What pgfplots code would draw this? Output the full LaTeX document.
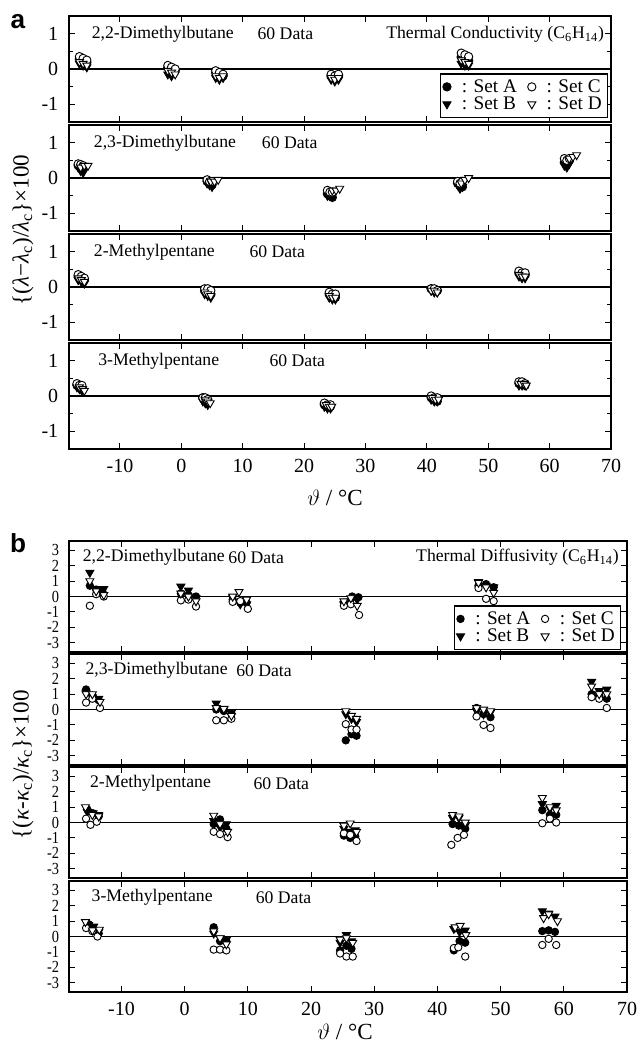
\documentclass[border=0pt]{standalone}
\usepackage{pgfplots}
\pgfplotsset{compat=1.18}
\usepackage{fontspec}
\setmainfont{Liberation Serif}
\newfontfamily\panelfont{Liberation Sans}

\pgfplotsset{
  base/.style={scale only axis, anchor=south west,
    xmin=-18.3, xmax=70, xtick={-10,0,...,70}, xticklabels={},
    tick align=inside, major tick length=4pt, minor tick length=2.5pt,
    every tick/.style={black, line width=0.6pt},
    axis line style={line width=0.8pt},
    yticklabel pos=left,
    /pgf/number format/assume math mode=true,
    ticklabel style={font=\fontsize{13}{15}\selectfont},
    yticklabel style={xshift=-3.5pt},
    xticklabel style={yshift=-3pt}},
  pa/.style={base, width=352.3pt, height=68.9pt,
    ymin=-1.5, ymax=1.5, ytick={-1,0,1}, minor ytick={-0.5,0.5}},
  pb/.style={base, width=362.7pt, height=72.15pt,
    ymin=-3.6, ymax=3.6, ytick={-3,-2,...,3},
    yticklabel style={font=\fontsize{11}{11}\selectfont, xscale=0.85, inner ysep=0pt}},
  showx/.style={xticklabels={-10,0,10,20,30,40,50,60,70}},
  sA/.style={only marks, mark=*, mark size=2.7pt,
    mark options={draw=black, fill=black, line width=0.6pt}},
  sB/.style={only marks, mark=triangle*, mark size=3pt,
    mark options={rotate=180, draw=black, fill=black, line width=0.6pt}},
  sC/.style={only marks, mark=*, mark size=2.7pt,
    mark options={draw=black, fill=white, line width=0.6pt}},
  sD/.style={only marks, mark=triangle*, mark size=3pt,
    mark options={rotate=180, draw=black, fill=white, line width=0.6pt}},
  zero/.style={black, line width=1pt, forget plot},
  setlegend/.style={legend columns=2, transpose legend,
    legend cell align=left,
    legend style={draw=black, line width=0.8pt, fill=white,
      font=\fontsize{12.5}{13}\selectfont, column sep=5pt, row sep=-2.5pt,
      inner sep=1.5pt}},
}

\newcommand{\lab}[3]{\node[anchor=west, font=\fontsize{11.5}{13}\selectfont] at (rel axis cs:#1,#3) {#2};}

\begin{document}
\begin{tikzpicture}
\path (0,0) rectangle (414.05pt,684.45pt);

% ---------------- panel a ----------------
\begin{axis}[pa, at={(44.85pt,605.15pt)}, setlegend,
  legend style={at={(rel axis cs:0.994,0.04)}, anchor=south east}]
\addplot[zero] coordinates {(-18.3,0) (70,0)};
\addplot[sA] coordinates {(-16.6,0.30)(-16.0,0.25)(-15.4,0.20) (-2.2,0.05)(-1.6,0.0)(-1.0,-0.05) (5.6,-0.1)(6.2,-0.15)(6.8,-0.2) (24.4,-0.2)(25,-0.25)(25.6,-0.2) (45.6,0.35)(46.2,0.3)(46.8,0.25)};
\addplot[sB] coordinates {(-16.6,0.15)(-16.0,0.10)(-15.4,0.05) (-2.2,-0.15)(-1.6,-0.2)(-1.0,-0.1) (5.6,-0.25)(6.2,-0.3)(6.8,-0.25) (24.4,-0.3)(25,-0.35)(25.6,-0.3) (45.6,0.15)(46.2,0.1)(46.8,0.1)};
\addplot[sC] coordinates {(-16.6,0.35)(-16.0,0.30)(-15.4,0.25) (-2.2,0.1)(-1.6,0.05)(-1.0,0.0) (5.6,-0.05)(6.2,-0.1)(6.8,-0.15) (24.4,-0.15)(25,-0.2)(25.6,-0.15) (45.6,0.45)(46.2,0.4)(46.8,0.35)};
\addplot[sD] coordinates {(-16.6,0.20)(-16.0,0.15)(-15.4,0.10) (-2.2,-0.05)(-1.6,-0.1)(-1.0,-0.15) (5.6,-0.2)(6.2,-0.25)(6.8,-0.2) (24.4,-0.25)(25,-0.3)(25.6,-0.25) (45.6,0.25)(46.2,0.2)(46.8,0.15)};
\legend{: Set A, : Set B, : Set C, : Set D}
\lab{0.032}{2,2-Dimethylbutane}{0.83}
\lab{0.338}{60 Data}{0.83}
\node[anchor=east, font=\fontsize{11.5}{13}\selectfont] at (rel axis cs:0.997,0.83) {Thermal Conductivity (C\textsubscript{6}H\textsubscript{14})};
\end{axis}

\begin{axis}[pa, at={(44.85pt,534.3pt)}]
\addplot[zero] coordinates {(-18.3,0) (70,0)};
\addplot[sA] coordinates {(-16.8,0.35)(-16.4,0.3)(-16.0,0.25) (4.2,-0.1)(4.6,-0.15)(5.0,-0.2) (23.8,-0.45)(24.2,-0.5)(24.6,-0.55) (45.0,-0.15)(45.4,-0.2)(45.8,-0.25) (62.4,0.45)(62.8,0.4)(63.2,0.5)};
\addplot[sB] coordinates {(-16.8,0.3)(-16.4,0.2)(-16.0,0.15) (4.2,-0.15)(4.6,-0.2)(5.0,-0.25) (23.8,-0.5)(24.2,-0.45)(24.6,-0.5) (45.0,-0.2)(45.4,-0.3)(45.8,-0.25) (62.4,0.35)(62.8,0.3)(63.2,0.4)};
\addplot[sC] coordinates {(-16.8,0.4)(-16.4,0.38)(-16.0,0.35) (4.2,-0.05)(4.6,-0.1)(5.0,-0.1) (23.8,-0.35)(24.2,-0.4)(24.6,-0.4) (45.0,-0.1)(45.4,-0.15)(45.8,-0.1) (62.4,0.55)(62.8,0.5)(63.2,0.55)};
\addplot[sD] coordinates {(-16.4,0.3)(-15.8,0.35)(-15.2,0.35) (4.8,-0.1)(5.4,-0.1)(6.0,-0.05) (24.6,-0.35)(25.2,-0.35)(25.8,-0.3) (45.6,-0.15)(46.2,-0.05)(46.8,0.0) (63.2,0.55)(63.8,0.6)(64.4,0.65)};
\lab{0.036}{2,3-Dimethylbutane}{0.83}
\lab{0.346}{60 Data}{0.83}
\end{axis}

\begin{axis}[pa, at={(44.85pt,463.45pt)}]
\addplot[zero] coordinates {(-18.3,0) (70,0)};
\addplot[sA] coordinates {(-16.8,0.3)(-16.3,0.25)(-15.8,0.2) (3.8,-0.1)(4.3,-0.15)(4.8,-0.2) (24.1,-0.2)(24.6,-0.25)(25.1,-0.3) (40.7,-0.05)(41.2,-0.1)(41.7,-0.1) (55.0,0.4)(55.5,0.35)(56.0,0.35)};
\addplot[sB] coordinates {(-16.8,0.2)(-16.3,0.15)(-15.8,0.1) (3.8,-0.2)(4.3,-0.25)(4.8,-0.3) (24.1,-0.3)(24.6,-0.35)(25.1,-0.35) (40.7,-0.1)(41.2,-0.15)(41.7,-0.15) (55.0,0.3)(55.5,0.25)(56.0,0.25)};
\addplot[sC] coordinates {(-16.8,0.35)(-16.3,0.3)(-15.8,0.25) (3.8,-0.05)(4.3,-0.05)(4.8,-0.1) (24.1,-0.15)(24.6,-0.2)(25.1,-0.2) (40.7,-0.05)(41.2,-0.05)(41.7,-0.1) (55.0,0.45)(55.5,0.4)(56.0,0.4)};
\addplot[sD] coordinates {(-16.8,0.25)(-16.3,0.2)(-15.8,0.15) (3.8,-0.15)(4.3,-0.2)(4.8,-0.25) (24.1,-0.25)(24.6,-0.3)(25.1,-0.3) (40.7,-0.1)(41.2,-0.1)(41.7,-0.15) (55.0,0.35)(55.5,0.3)(56.0,0.3)};
\lab{0.036}{2-Methylpentane}{0.83}
\lab{0.323}{60 Data}{0.83}
\end{axis}

\begin{axis}[pa, showx, at={(44.85pt,392.6pt)}]
\addplot[zero] coordinates {(-18.3,0) (70,0)};
\addplot[sA] coordinates {(-17.0,0.3)(-16.6,0.3)(-16.2,0.25) (3.5,-0.05)(3.9,-0.1)(4.3,-0.15) (23.3,-0.25)(23.8,-0.3)(24.3,-0.3) (40.7,-0.05)(41.2,-0.1)(41.7,-0.15) (55.0,0.35)(55.5,0.35)(56.0,0.3)};
\addplot[sB] coordinates {(-17.0,0.25)(-16.6,0.2)(-16.2,0.15) (3.5,-0.15)(3.9,-0.2)(4.3,-0.25) (23.3,-0.3)(23.8,-0.35)(24.3,-0.35) (40.7,-0.1)(41.2,-0.15)(41.7,-0.15) (55.0,0.3)(55.5,0.3)(56.0,0.3)};
\addplot[sC] coordinates {(-17.0,0.35)(-16.6,0.3)(-16.2,0.3) (3.5,-0.05)(3.9,-0.05)(4.3,-0.1) (23.3,-0.2)(23.8,-0.25)(24.3,-0.25) (40.7,0.0)(41.2,-0.05)(41.7,-0.05) (55.0,0.4)(55.5,0.4)(56.0,0.35)};
\addplot[sD] coordinates {(-16.6,0.25)(-16.1,0.2)(-15.8,0.15) (3.9,-0.1)(4.3,-0.15)(4.7,-0.2) (23.6,-0.25)(24.1,-0.3)(24.5,-0.3) (40.9,-0.05)(41.4,-0.1)(41.9,-0.1) (55.3,0.35)(55.8,0.35)(56.2,0.3)};
\lab{0.044}{3-Methylpentane}{0.83}
\lab{0.36}{60 Data}{0.83}
\end{axis}

% ---------------- panel b ----------------
\begin{axis}[pb, at={(44.85pt,260.65pt)}, setlegend,
  legend style={at={(rel axis cs:0.989,0.02)}, anchor=south east}]
\addplot[zero] coordinates {(-18.3,0) (70,0)};
\addplot[sA, mark size=2.4pt] coordinates {(-15.0,0.7)(-14.0,0.45)(-13.0,0.3) (-0.6,0.2)(0.6,0.1)(1.8,0.0) (7.6,-0.2)(8.8,-0.4)(9.8,-0.4) (25.2,-0.4)(26.5,0.0)(27.5,-0.05) (46.5,0.7)(47.7,0.8)(48.9,0.6)};
\addplot[sB] coordinates {(-15.0,1.55)(-13.8,0.5)(-12.8,0.5) (-0.6,0.65)(0.6,0.4)(1.8,-0.1) (7.6,-0.1)(8.8,-0.5)(9.8,-0.5) (25.2,-0.5)(26.3,-0.3)(27.3,-0.2) (46.5,0.95)(47.7,0.7)(48.9,0.6)};
\addplot[sC, mark size=2.4pt] coordinates {(-15.0,-0.6)(-14.0,0.15)(-12.8,0.0) (-0.6,-0.25)(0.6,-0.2)(1.8,-0.65) (7.6,-0.35)(8.8,-0.3)(10.0,-0.8) (25.2,-0.6)(26.3,-0.5)(27.6,-1.2) (46.5,0.55)(47.7,-0.15)(48.9,-0.3)};
\addplot[sD] coordinates {(-15.0,1.0)(-14.0,0.35)(-12.8,0.1) (-0.6,0.2)(0.6,0.0)(1.8,-0.3) (7.6,0.0)(8.6,0.3)(9.8,-0.2) (25.2,-0.3)(26.3,-0.1)(27.3,-0.6) (46.5,0.9)(47.7,0.6)(48.9,0.25)};
\legend{: Set A, : Set B, : Set C, : Set D}
\lab{0.015}{2,2-Dimethylbutane}{0.85}
\lab{0.276}{60 Data}{0.85}
\node[anchor=east, font=\fontsize{11.5}{13}\selectfont] at (rel axis cs:0.995,0.85) {Thermal Diffusivity (C\textsubscript{6}H\textsubscript{14})};
\end{axis}

\begin{axis}[pb, at={(44.85pt,187.2pt)}]
\addplot[zero] coordinates {(-18.3,0) (70,0)};
\addplot[sA, mark size=2.4pt] coordinates {(-15.6,1.3)(-14.6,0.9)(-13.6,0.6) (5.0,0.0)(6.2,-0.1)(7.4,-0.3) (25.5,-2.0)(26.4,-1.6)(27.2,-1.7) (46.2,0.1)(47.3,-0.3)(48.4,-0.5) (64.4,1.0)(65.6,0.9)(66.8,0.7)};
\addplot[sB] coordinates {(-15.6,1.1)(-14.6,0.8)(-13.6,0.7) (5.0,0.4)(6.2,0.0)(7.4,-0.2) (25.5,-0.3)(26.4,-0.6)(27.2,-0.8) (46.2,-0.1)(47.3,-0.3)(48.4,-0.2) (64.4,1.8)(65.6,1.2)(66.8,1.3)};
\addplot[sC, mark size=2.4pt] coordinates {(-15.6,0.45)(-14.6,0.7)(-13.4,0.1) (5.0,-0.7)(6.2,-0.7)(7.4,-0.6) (25.5,-0.95)(26.4,-1.3)(27.2,-1.3) (46.2,-0.45)(47.3,-1.0)(48.4,-1.2) (64.4,0.8)(65.6,0.7)(66.8,0.1)};
\addplot[sD] coordinates {(-15.6,1.0)(-14.6,1.0)(-13.4,0.5) (5.0,0.1)(6.2,0.05)(7.4,-0.4) (25.5,-0.1)(26.4,-0.4)(27.2,-0.6) (46.2,0.1)(47.3,0.0)(48.4,-0.1) (64.4,1.5)(65.6,1.0)(66.8,1.0)};
\lab{0.02}{2,3-Dimethylbutane}{0.85}
\lab{0.29}{60 Data}{0.85}
\end{axis}

\begin{axis}[pb, at={(44.85pt,113.75pt)}]
\addplot[zero] coordinates {(-18.3,0) (70,0)};
\addplot[sA, mark size=2.4pt] coordinates {(-15.4,0.85)(-14.5,0.6)(-13.6,0.4) (4.6,-0.1)(5.6,0.2)(6.6,-0.4) (25.2,-0.85)(26.2,-1.0)(27.0,-0.9) (42.4,-0.1)(43.4,-0.2)(44.4,-0.4) (56.6,0.8)(57.8,0.5)(58.8,0.5)};
\addplot[sB] coordinates {(-15.4,0.7)(-14.5,0.6)(-13.6,0.5) (4.6,0.1)(5.6,-0.3)(6.6,-0.1) (25.2,-0.4)(26.2,-0.6)(27.0,-0.5) (42.4,0.3)(43.4,0.3)(44.4,-0.2) (56.6,1.2)(57.8,0.9)(58.8,1.1)};
\addplot[sC, mark size=2.4pt] coordinates {(-15.6,0.25)(-14.9,-0.15)(-13.9,0.05) (4.6,-0.6)(5.6,-0.75)(6.8,-0.95) (25.2,-0.7)(26.2,-0.8)(27.2,-1.2) (42.2,-1.45)(43.2,-1.0)(44.2,-0.8) (56.6,-0.05)(57.8,0.25)(58.8,0.0)};
\addplot[sD] coordinates {(-15.7,1.0)(-14.6,0.5)(-13.6,0.4) (4.6,0.45)(5.6,-0.1)(6.8,-0.6) (25.2,-0.2)(26.2,-0.05)(27.2,-0.6) (42.4,0.5)(43.4,0.4)(44.4,0.0) (56.6,1.6)(57.8,1.0)(58.8,0.8)};
\lab{0.028}{2-Methylpentane}{0.85}
\lab{0.321}{60 Data}{0.85}
\end{axis}

\begin{axis}[pb, showx, at={(44.85pt,39.65pt)}]
\addplot[zero] coordinates {(-18.3,0) (70,0)};
\addplot[sA, mark size=2.4pt] coordinates {(-15.2,0.8)(-14.4,0.5)(-13.6,0.2) (4.6,0.6)(5.6,-0.3)(6.6,-0.3) (24.6,-0.9)(25.6,-0.6)(26.4,-0.8) (42.6,-0.9)(43.5,-0.3)(44.4,-0.4) (56.6,0.35)(57.6,0.4)(58.6,0.3)};
\addplot[sB] coordinates {(-15.2,0.75)(-14.4,0.65)(-13.6,0.3) (4.6,0.2)(5.6,-0.1)(6.6,-0.2) (24.6,-0.4)(25.6,0.1)(26.4,-0.3) (42.6,0.5)(43.5,0.3)(44.4,0.4) (56.6,1.65)(57.6,1.5)(58.6,1.3)};
\addplot[sC, mark size=2.4pt] coordinates {(-15.6,0.55)(-14.6,0.35)(-13.8,0.0) (4.6,-0.85)(5.6,-0.85)(6.6,-0.9) (24.6,-1.1)(25.6,-1.3)(26.6,-1.3) (42.6,-0.75)(43.3,-0.7)(44.4,-1.3) (56.6,-0.55)(57.6,-0.15)(58.8,-0.55)};
\addplot[sD] coordinates {(-15.7,0.95)(-14.6,0.4)(-13.5,0.45) (4.6,0.35)(5.6,-0.1)(6.6,-0.5) (24.6,-0.2)(25.6,-0.1)(26.6,-0.4) (42.8,0.6)(43.6,0.7)(44.5,0.1) (56.8,1.2)(57.6,1.45)(59.0,1.0)};
\lab{0.031}{3-Methylpentane}{0.85}
\lab{0.325}{60 Data}{0.85}
\end{axis}

% labels
\node[font=\panelfont\bfseries\fontsize{17}{17}\selectfont] at (11.7pt,670.15pt) {a};
\node[font=\panelfont\bfseries\fontsize{17}{17}\selectfont] at (11.7pt,331.5pt) {b};
\node[rotate=90, font=\fontsize{15}{17}\selectfont] at (15pt,534.95pt)
  {\{(\textit{λ}−\textit{λ}\textsubscript{c})/\textit{λ}\textsubscript{c}\}×100};
\node[rotate=90, font=\fontsize{15}{17}\selectfont] at (15pt,187.2pt)
  {\{(\textit{κ}-\textit{κ}\textsubscript{c})/\textit{κ}\textsubscript{c}\}×100};
\node[font=\fontsize{15}{17}\selectfont] at (217.75pt,360.75pt) {$\vartheta$ / °C};
\node[font=\fontsize{15}{17}\selectfont] at (224.25pt,13.65pt) {$\vartheta$ / °C};
\end{tikzpicture}
\end{document}
